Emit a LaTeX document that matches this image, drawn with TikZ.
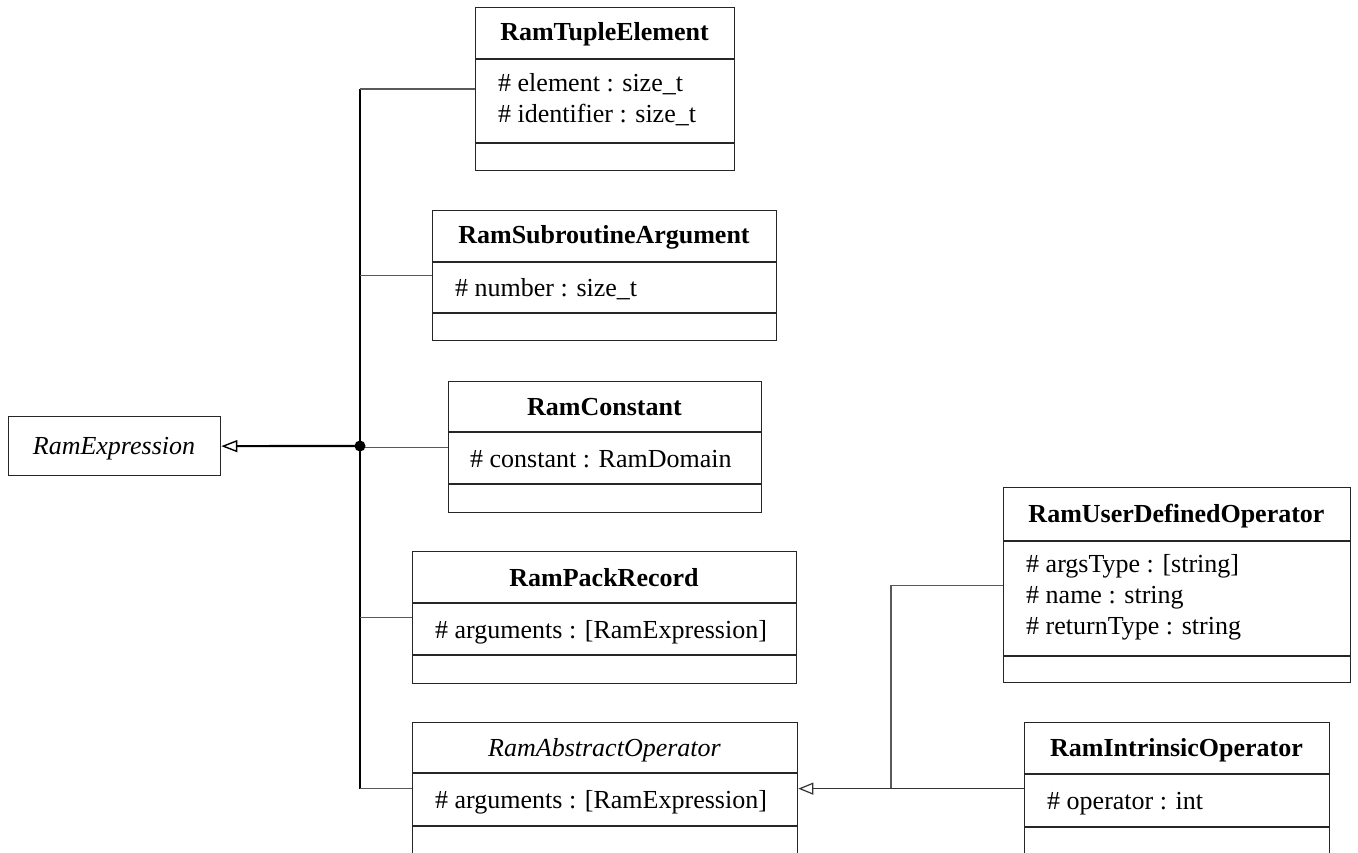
\documentclass[tikz,border=0pt]{standalone}
\usepackage{fontspec}
\setmainfont{Liberation Serif}
\usetikzlibrary{arrows.meta}

% class box: name, left, top, right, header rule, attribute rule, bottom
\newcommand{\classbox}[7]{%
  \pgfmathsetmacro{\clsw}{#4-#2}%
  \pgfmathsetmacro{\clsh}{#7-#3}%
  \node[boxshape, minimum width=\clsw pt, minimum height=\clsh pt] (#1) at (#2,#3) {};%
  \draw[boxline] (#2,#5) -- (#4,#5);%
  \draw[boxline] (#2,#6) -- (#4,#6);%
}

\begin{document}
\begin{tikzpicture}[x=1pt, y=-1pt,
  boxshape/.style={draw=black!85, line width=1.3pt, rectangle, anchor=north west, inner sep=0pt},
  boxline/.style={draw=black!85, line width=1.3pt},
  ttl/.style={anchor=base, inner sep=0pt, font=\fontsize{26}{31}\selectfont\bfseries},
  ttlabs/.style={anchor=base, inner sep=0pt, font=\fontsize{26}{31}\selectfont\itshape},
  attr/.style={anchor=base west, inner sep=0pt, font=\fontsize{26}{31}\selectfont},
  link/.style={draw=black!65, line width=1.3pt},
  bus/.style={draw=black, line width=1.4pt},
  genthick/.style={draw=black, line width=2.2pt, -{Triangle[open, length=16pt, width=12pt, line width=1.4pt]}},
  genthin/.style={draw=black!80, line width=1.3pt, -{Triangle[open, length=15pt, width=12pt, line width=1.2pt]}}
]
\clip (0,0) rectangle (1358,853);
\fill[white] (0,0) rectangle (1358,853);

% base class
\node[boxshape, minimum width=212pt, minimum height=59pt] (expr) at (8,416) {};
\node[ttlabs] (expr-t) at (114,454) {RamExpression};

% RamTupleElement
\classbox{tuple}{475}{7}{734}{59}{143}{170}
\node[ttl] (tuple-t) at (604.5,41) {RamTupleElement};
\node[attr] (tuple-a1) at (498,92) {\# element : size\_t};
\node[attr] (tuple-a2) at (498,123) {\# identifier : size\_t};

% RamSubroutineArgument
\classbox{sub}{432}{210}{776}{262}{313}{340}
\node[ttl] (sub-t) at (604,244) {RamSubroutineArgument};
\node[attr] (sub-a1) at (455,296) {\# number : size\_t};

% RamConstant
\classbox{const}{448}{381}{761}{432}{484}{512}
\node[ttl] (const-t) at (604.5,415) {RamConstant};
\node[attr] (const-a1) at (470,467) {\# constant : RamDomain};

% RamPackRecord
\classbox{pack}{412}{551}{796}{603}{655}{683}
\node[ttl] (pack-t) at (604,586) {RamPackRecord};
\node[attr] (pack-a1) at (435,638) {\# arguments : [RamExpression]};

% RamAbstractOperator
\classbox{absop}{412}{722}{797}{773}{826}{854}
\node[ttlabs] (absop-t) at (604.5,756) {RamAbstractOperator};
\node[attr] (absop-a1) at (435,808) {\# arguments : [RamExpression]};

% RamUserDefinedOperator
\classbox{user}{1003}{487}{1350}{541}{656}{682}
\node[ttl] (user-t) at (1176.5,522) {RamUserDefinedOperator};
\node[attr] (user-a1) at (1026,572) {\# argsType : [string]};
\node[attr] (user-a2) at (1026,603) {\# name : string};
\node[attr] (user-a3) at (1026,634) {\# returnType : string};

% RamIntrinsicOperator
\classbox{intr}{1024}{722}{1329}{774}{827}{854}
\node[ttl] (intr-t) at (1176.5,756) {RamIntrinsicOperator};
\node[attr] (intr-a1) at (1047,809) {\# operator : int};

% inheritance tree into RamExpression
\coordinate (hub) at (360,446);
\draw[bus] (tuple.west -| hub) -- (absop.west -| hub);
\draw[link] (tuple.west -| hub) -- (tuple.west);
\draw[link] (sub.west -| hub) -- (sub.west);
\draw[link] (const.west -| hub) -- (const.west);
\draw[link] (pack.west -| hub) -- (pack.west);
\draw[link] (absop.west -| hub) -- (absop.west);
\draw[genthick] (hub) -- (expr.east);
\fill (hub) circle (5.5);

% inheritance tree into RamAbstractOperator
\coordinate (opjoin) at (891,788);
\draw[link] (user.west) -| (opjoin);
\draw[genthin] (intr.west) -- (absop.east);
\end{tikzpicture}
\end{document}
